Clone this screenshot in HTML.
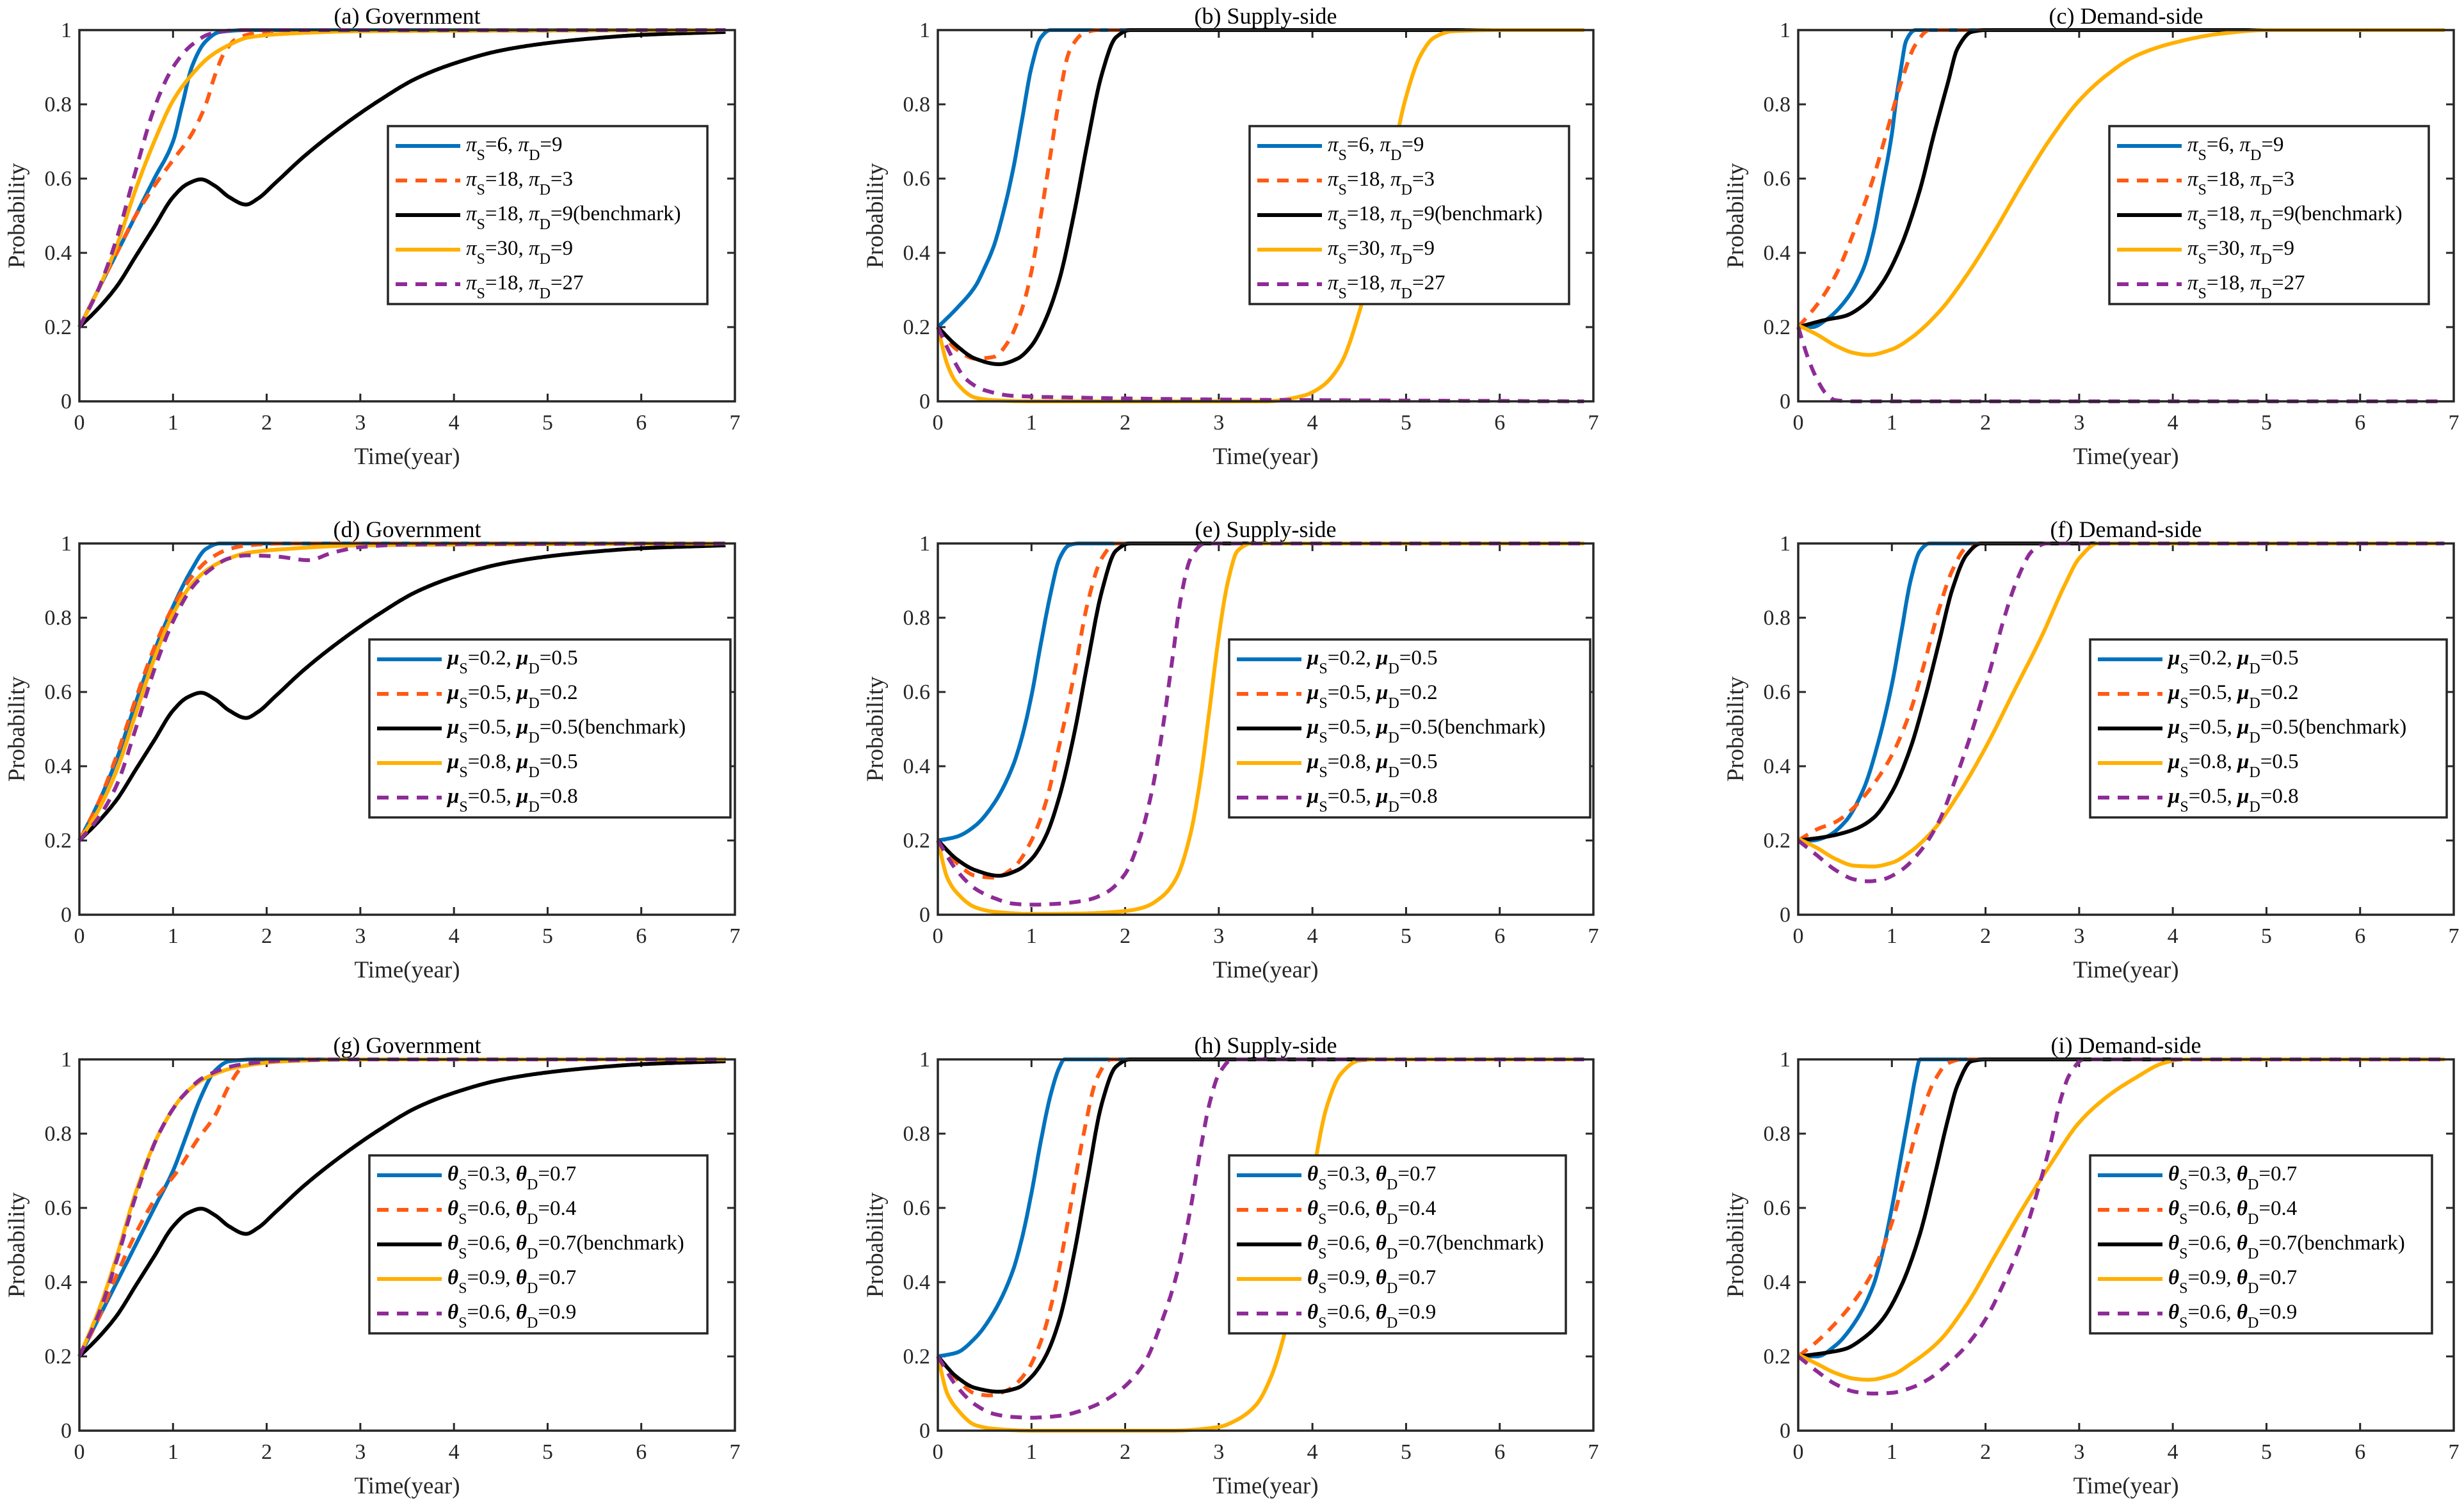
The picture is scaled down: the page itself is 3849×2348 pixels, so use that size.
<!DOCTYPE html>
<html><head><meta charset="utf-8">
<style>
html,body{margin:0;padding:0;background:#fff;}
svg{display:block;font-family:"Liberation Serif",serif;}
</style></head>
<body>
<svg id="fig" width="3849" height="2348" viewBox="0 0 3849 2348" xmlns="http://www.w3.org/2000/svg"></svg>
<script>
// ---------- data ----------
const xTicks = [0,1,2,3,4,5,6,7];
const yTicks = [0,0.2,0.4,0.6,0.8,1];
const yTickLabels = ["0","0.2","0.4","0.6","0.8","1"];
const titles = ["(a) Government","(b) Supply-side","(c) Demand-side","(d) Government","(e) Supply-side","(f) Demand-side","(g) Government","(h) Supply-side","(i) Demand-side"];
const seriesColors = ["#0072BD","#FF5A14","#000000","#FFB000","#8E2C97"];
const seriesDashed = [false,true,false,false,true];
const legendPi = [["6","9"],["18","3"],["18","9(benchmark)"],["30","9"],["18","27"]];
const legendMu = [["0.2","0.5"],["0.5","0.2"],["0.5","0.5(benchmark)"],["0.8","0.5"],["0.5","0.8"]];
const legendTheta = [["0.3","0.7"],["0.6","0.4"],["0.6","0.7(benchmark)"],["0.9","0.7"],["0.6","0.9"]];

const benchGov = [[0,.2],[.2,.25],[.4,.31],[.6,.39],[.8,.47],[1,.55],[1.15,.585],[1.3,.598],[1.45,.58],[1.6,.55],[1.78,.53],[1.9,.545],[2.1,.59],[2.4,.66],[2.8,.74],[3.2,.81],[3.6,.87],[4,.91],[4.5,.945],[5,.965],[5.5,.978],[6,.987],[6.9,.995]];

const aBlue=[[0,.2],[.2,.3],[.4,.4],[.6,.5],[.8,.6],[1,.7],[1.1,.8],[1.2,.9],[1.35,.97],[1.5,.995],[1.8,1],[6.9,1]];
const aOrange=[[0,.2],[.2,.3],[.4,.4],[.6,.5],[.8,.58],[1,.65],[1.2,.72],[1.35,.8],[1.45,.88],[1.55,.94],[1.7,.98],[2,.995],[6.9,1]];
const aYellow=[[0,.2],[.2,.3],[.4,.42],[.6,.57],[.8,.7],[1,.81],[1.2,.88],[1.4,.93],[1.6,.96],[1.8,.98],[2.2,.99],[3,.997],[6.9,1]];
const aPurple=[[0,.2],[.2,.3],[.4,.44],[.6,.62],[.8,.79],[1,.9],[1.2,.96],[1.4,.99],[1.7,1],[6.9,1]];

const bBlue=[[0,.2],[.2,.25],[.4,.31],[.5,.36],[.6,.42],[.7,.51],[.8,.62],[.9,.76],[1,.9],[1.1,.98],[1.2,1],[6.9,1]];
const bOrange=[[0,.2],[.2,.14],[.4,.115],[.6,.12],[.75,.16],[.9,.25],[1,.35],[1.1,.5],[1.2,.66],[1.3,.82],[1.4,.94],[1.55,.99],[1.7,1],[6.9,1]];
const bBlack=[[0,.2],[.2,.15],[.4,.115],[.65,.1],[.85,.115],[1,.15],[1.15,.22],[1.3,.33],[1.45,.5],[1.6,.7],[1.75,.88],[1.9,.98],[2.05,1],[6.9,1]];
const bYellow=[[0,.2],[.1,.1],[.2,.05],[.4,.01],[.6,.003],[1,0],[3.5,0],[3.9,.015],[4.1,.04],[4.3,.1],[4.5,.24],[4.7,.45],[4.85,.65],[5,.82],[5.15,.93],[5.3,.98],[5.5,.997],[6,1],[6.9,1]];
const bPurple=[[0,.2],[.15,.12],[.3,.06],[.5,.03],[.8,.015],[1.5,.01],[3,.005],[6.9,0]];

const cBlue=[[0,.2],[.15,.2],[.3,.22],[.5,.27],[.7,.36],[.8,.45],[.9,.58],[1,.72],[1.05,.82],[1.1,.9],[1.15,.97],[1.25,1],[6.9,1]];
const cOrange=[[0,.2],[.2,.26],[.4,.34],[.6,.46],[.8,.6],[.95,.73],[1.1,.86],[1.25,.96],[1.4,1],[6.9,1]];
const cBlack=[[0,.2],[.3,.22],[.5,.23],[.7,.26],[.9,.32],[1.1,.42],[1.3,.57],[1.45,.72],[1.6,.86],[1.7,.95],[1.85,.995],[2,1],[6.9,1]];
const cYellow=[[0,.205],[.2,.18],[.4,.15],[.6,.13],[.75,.125],[1,.14],[1.2,.17],[1.5,.24],[1.8,.34],[2.1,.46],[2.4,.59],[2.7,.71],[3,.81],[3.3,.88],[3.6,.93],[4,.965],[4.5,.99],[5,1],[6.9,1]];
const cPurple=[[0,.2],[.1,.12],[.2,.06],[.3,.02],[.4,.003],[.6,0],[6.9,0]];

const dBlue=[[0,.2],[.2,.3],[.4,.42],[.6,.57],[.8,.71],[1,.83],[1.2,.93],[1.35,.985],[1.5,1],[6.9,1]];
const dOrange=[[0,.2],[.2,.3],[.4,.43],[.6,.58],[.8,.72],[1,.83],[1.2,.91],[1.4,.96],[1.6,.985],[1.8,.995],[2.2,1],[6.9,1]];
const dYellow=[[0,.2],[.2,.28],[.4,.39],[.6,.54],[.8,.69],[1,.81],[1.2,.89],[1.4,.935],[1.6,.96],[1.8,.975],[2.2,.985],[3,.995],[6.9,1]];
const dPurple=[[0,.2],[.2,.26],[.4,.35],[.6,.5],[.8,.66],[1,.79],[1.2,.88],[1.4,.93],[1.6,.96],[1.8,.968],[2.1,.965],[2.45,.955],[2.7,.975],[3,.99],[3.5,.997],[6.9,1]];

const eBlue=[[0,.2],[.2,.21],[.4,.24],[.6,.3],[.8,.4],[.9,.48],[1,.59],[1.1,.73],[1.2,.86],[1.3,.96],[1.4,.995],[1.5,1],[6.9,1]];
const eOrange=[[0,.2],[.2,.14],[.4,.105],[.6,.1],[.8,.125],[1,.2],[1.15,.3],[1.3,.46],[1.45,.64],[1.6,.84],[1.75,.96],[1.9,1],[6.9,1]];
const eBlack=[[0,.2],[.2,.15],[.4,.12],[.65,.105],[.85,.12],[1,.15],[1.15,.21],[1.3,.32],[1.45,.48],[1.6,.68],[1.75,.87],[1.9,.98],[2.05,1],[6.9,1]];
const eYellow=[[0,.2],[.1,.1],[.2,.06],[.4,.02],[.6,.008],[1,.002],[1.5,.003],[2,.01],[2.2,.02],[2.4,.05],[2.55,.1],[2.7,.22],[2.8,.36],[2.9,.55],[3,.75],[3.1,.9],[3.2,.98],[3.35,1],[6.9,1]];
const ePurple=[[0,.2],[.2,.12],[.4,.07],[.6,.045],[.8,.03],[1,.027],[1.3,.03],[1.6,.04],[1.8,.06],[2,.11],[2.15,.2],[2.3,.35],[2.4,.5],[2.5,.68],[2.6,.86],[2.7,.96],[2.85,1],[6.9,1]];

const fBlue=[[0,.2],[.15,.2],[.3,.21],[.5,.25],[.7,.34],[.85,.46],[1,.62],[1.1,.76],[1.2,.9],[1.3,.98],[1.4,1],[6.9,1]];
const fOrange=[[0,.2],[.2,.23],[.4,.25],[.6,.29],[.8,.35],[1,.43],[1.2,.55],[1.35,.68],[1.5,.82],[1.65,.93],[1.8,.99],[1.95,1],[6.9,1]];
const fBlack=[[0,.2],[.3,.21],[.6,.23],[.8,.26],[1,.33],[1.2,.45],[1.35,.58],[1.5,.73],[1.65,.88],[1.8,.97],[1.95,1],[6.9,1]];
const fYellow=[[0,.205],[.2,.18],[.4,.15],[.6,.132],[.8,.13],[1,.14],[1.2,.17],[1.45,.23],[1.7,.32],[2,.45],[2.3,.6],[2.6,.75],[2.85,.89],[3,.96],[3.2,1],[6.9,1]];
const fPurple=[[0,.2],[.2,.16],[.4,.12],[.6,.095],[.75,.09],[.9,.095],[1.1,.12],[1.3,.17],[1.5,.25],[1.7,.38],[1.9,.53],[2.05,.66],[2.2,.8],[2.35,.91],[2.5,.98],[2.65,1],[6.9,1]];

const gBlue=[[0,.2],[.2,.3],[.4,.4],[.6,.5],[.8,.6],[1,.7],[1.15,.8],[1.3,.9],[1.45,.97],[1.6,.995],[1.9,1],[6.9,1]];
const gOrange=[[0,.2],[.2,.3],[.4,.42],[.6,.53],[.8,.62],[1.05,.7],[1.25,.78],[1.45,.85],[1.6,.93],[1.75,.98],[2,.995],[2.5,1],[6.9,1]];
const gYellow=[[0,.2],[.2,.32],[.4,.47],[.6,.64],[.85,.8],[1.1,.9],[1.35,.95],[1.7,.98],[2.2,.995],[3,1],[6.9,1]];
const gPurple=[[0,.2],[.2,.31],[.4,.46],[.6,.63],[.85,.8],[1.1,.9],[1.35,.955],[1.7,.985],[2.2,.997],[3,1],[6.9,1]];

const hBlue=[[0,.2],[.2,.21],[.4,.25],[.6,.32],[.8,.43],[.9,.52],[1,.64],[1.1,.78],[1.2,.9],[1.3,.98],[1.35,1],[6.9,1]];
const hOrange=[[0,.2],[.2,.14],[.4,.1],[.55,.095],[.75,.11],[.95,.16],[1.1,.24],[1.25,.38],[1.4,.58],[1.55,.79],[1.7,.95],[1.85,1],[6.9,1]];
const hBlack=[[0,.2],[.2,.145],[.4,.115],[.65,.105],[.85,.115],[1,.145],[1.15,.2],[1.3,.3],[1.45,.47],[1.6,.68],[1.75,.88],[1.9,.98],[2.05,1],[6.9,1]];
const hYellow=[[0,.2],[.1,.1],[.2,.06],[.4,.015],[.6,.005],[1,0],[2.5,0],[3,.01],[3.2,.03],[3.4,.07],[3.55,.14],[3.7,.26],[3.85,.45],[4,.68],[4.15,.87],[4.3,.96],[4.5,.997],[4.7,1],[6.9,1]];
const hPurple=[[0,.2],[.2,.12],[.4,.07],[.6,.045],[.8,.037],[1,.035],[1.3,.04],[1.6,.06],[1.9,.1],[2.2,.18],[2.4,.3],[2.55,.42],[2.7,.6],[2.8,.75],[2.9,.88],[3,.96],[3.15,1],[6.9,1]];

const iBlue=[[0,.2],[.2,.2],[.4,.23],[.6,.29],[.8,.39],[.9,.48],[1,.6],[1.1,.74],[1.2,.88],[1.25,.95],[1.3,1],[6.9,1]];
const iOrange=[[0,.2],[.2,.24],[.4,.29],[.6,.35],[.8,.43],[1,.56],[1.15,.7],[1.3,.84],[1.45,.94],[1.6,.99],[1.75,1],[6.9,1]];
const iBlack=[[0,.2],[.3,.21],[.5,.22],[.7,.25],[.9,.3],[1.1,.39],[1.3,.53],[1.45,.68],[1.6,.84],[1.7,.93],[1.85,.995],[2,1],[6.9,1]];
const iYellow=[[0,.205],[.2,.18],[.4,.155],[.6,.14],[.75,.137],[1,.15],[1.2,.18],[1.5,.24],[1.8,.34],[2.1,.47],[2.4,.6],[2.7,.72],[3,.83],[3.3,.9],[3.6,.95],[3.9,.99],[4.1,1],[6.9,1]];
const iPurple=[[0,.2],[.2,.16],[.4,.125],[.6,.105],[.8,.1],[1,.102],[1.2,.115],[1.4,.14],[1.6,.18],[1.8,.23],[2,.3],[2.2,.4],[2.4,.52],[2.55,.64],[2.7,.78],[2.8,.89],[2.9,.96],[3.05,1],[6.9,1]];

const panelSeries = [
  [aBlue,aOrange,benchGov,aYellow,aPurple],
  [bBlue,bOrange,bBlack,bYellow,bPurple],
  [cBlue,cOrange,cBlack,cYellow,cPurple],
  [dBlue,dOrange,benchGov,dYellow,dPurple],
  [eBlue,eOrange,eBlack,eYellow,ePurple],
  [fBlue,fOrange,fBlack,fYellow,fPurple],
  [gBlue,gOrange,benchGov,gYellow,gPurple],
  [hBlue,hOrange,hBlack,hYellow,hPurple],
  [iBlue,iOrange,iBlack,iYellow,iPurple]
];
const panelLegend = [legendPi,legendPi,legendPi,legendMu,legendMu,legendMu,legendTheta,legendTheta,legendTheta];
const legendSym = ["π","π","π","μ","μ","μ","θ","θ","θ"];

// ---------- layout ----------
const NS="http://www.w3.org/2000/svg";
const svg=document.getElementById('fig');
const colLeft=[124,1465,2809], rowTop=[47,849,1655];
const AW=1024, AH=580;
const legendW=[499,499,499,564,564,557,528,526,534];
function mk(tag,attrs,parent){const e=document.createElementNS(NS,tag);for(const k in attrs)e.setAttribute(k,attrs[k]);(parent||svg).appendChild(e);return e;}

// monotone cubic (Fritsch-Carlson) interpolation, sampled densely
function pathFrom(pts,sx,sy){
  const n=pts.length, xs=pts.map(p=>p[0]), ys=pts.map(p=>p[1]);
  const dl=[], m=new Array(n).fill(0);
  for(let i=0;i<n-1;i++) dl.push((ys[i+1]-ys[i])/(xs[i+1]-xs[i]));
  m[0]=dl[0]; m[n-1]=dl[n-2];
  for(let i=1;i<n-1;i++){
    if(dl[i-1]*dl[i]<=0) m[i]=0;
    else { const w1=2*(xs[i+1]-xs[i])+(xs[i]-xs[i-1]), w2=(xs[i+1]-xs[i])+2*(xs[i]-xs[i-1]);
      m[i]=(w1+w2)/(w1/dl[i-1]+w2/dl[i]); }
  }
  let d="M"+sx(xs[0]).toFixed(1)+","+sy(ys[0]).toFixed(1);
  for(let i=0;i<n-1;i++){
    const h=xs[i+1]-xs[i], N=Math.max(4,Math.ceil(h*60));
    for(let k=1;k<=N;k++){
      const t=k/N, t2=t*t, t3=t2*t;
      const y=(2*t3-3*t2+1)*ys[i]+(t3-2*t2+t)*h*m[i]+(-2*t3+3*t2)*ys[i+1]+(t3-t2)*h*m[i+1];
      d+=" L"+sx(xs[i]+t*h).toFixed(1)+","+sy(y).toFixed(1);
    }
  }
  return d;
}

for(let p=0;p<9;p++){
  const L=colLeft[p%3], T=rowTop[Math.floor(p/3)];
  const sx=v=>L+v/7*AW, sy=v=>T+AH-v*AH;
  const g=mk('g',{});
  
  
  mk('rect',{x:L,y:T,width:AW,height:AH,fill:'#fff'},g);
  const tt=mk('text',{x:L+AW/2,y:T-10,'text-anchor':'middle','font-size':36,fill:'#000'},g);
  tt.textContent=titles[p];
  
  
  xTicks.forEach(v=>{
    const x=sx(v);
    mk('line',{x1:x,y1:T+AH,x2:x,y2:T+AH-12,stroke:'#262626','stroke-width':3},g);
    mk('line',{x1:x,y1:T,x2:x,y2:T+12,stroke:'#262626','stroke-width':3},g);
    const t=mk('text',{x:x,y:T+AH+44,'text-anchor':'middle','font-size':34,fill:'#262626'},g);
    t.textContent=String(v);
    
    
  });
  yTicks.forEach((v,i)=>{
    const y=sy(v);
    mk('line',{x1:L,y1:y,x2:L+12,y2:y,stroke:'#262626','stroke-width':3},g);
    mk('line',{x1:L+AW,y1:y,x2:L+AW-12,y2:y,stroke:'#262626','stroke-width':3},g);
    const t=mk('text',{x:L-12,y:y+11,'text-anchor':'end','font-size':34,fill:'#262626'},g);
    t.textContent=yTickLabels[i];
    
    
  });
  const xt=mk('text',{x:L+AW/2,y:T+AH+98,'text-anchor':'middle','font-size':37,fill:'#262626'},g);
  xt.textContent='Time(year)';
  
  
  const yt=mk('text',{x:0,y:0,'text-anchor':'middle','font-size':37,fill:'#262626',transform:'translate('+(L-86)+','+(T+AH/2)+') rotate(-90)'},g);
  yt.textContent='Probability';
  
  
  const cid='clip'+p;
  const cp=mk('clipPath',{id:cid},g);
  mk('rect',{x:L-4,y:T-6,width:AW+8,height:AH+12},cp);
  panelSeries[p].forEach((pts,s)=>{
    const path=mk('path',{d:pathFrom(pts,sx,sy),fill:'none',stroke:seriesColors[s],'stroke-width':6,'clip-path':'url(#'+cid+')','stroke-linejoin':'round'},g);
    if(seriesDashed[s]) path.setAttribute('stroke-dasharray','18,13');
    
    
  });
  mk('rect',{x:L,y:T,width:AW,height:AH,fill:'none',stroke:'#262626','stroke-width':3.5},g);
  const lx=L+(p%3===0?482:(p%3===1?487:486)) - (Math.floor(p/3)>0?(p%3===0?29:(p%3===1?32:30)):0);
  const ly=T+150;
  const lw=legendW[p], lh=278;
  const lg=mk('g',{},g);
  
  
  mk('rect',{x:lx,y:ly,width:lw,height:lh,fill:'#fff',stroke:'#262626','stroke-width':3.5},lg);
  const sym=legendSym[p];
  const isGreekBold = sym!=="π";
  panelLegend[p].forEach((lab,s)=>{
    const ey=ly+31+s*54;
    const ln=mk('line',{x1:lx+12,y1:ey,x2:lx+113,y2:ey,stroke:seriesColors[s],'stroke-width':6},lg);
    if(seriesDashed[s]) ln.setAttribute('stroke-dasharray','18,13');
    
    
    const t=mk('text',{x:lx+122,y:ey+8,'font-size':33,fill:'#000'},lg);
    
    
    const parts=[[sym,'g'],['S','sub'],['='+lab[0]+', ','n'],[sym,'g'],['D','sub'],['='+lab[1],'n']];
    parts.forEach(([txt,kind])=>{
      const ts=document.createElementNS(NS,'tspan');
      ts.textContent=txt;
      if(kind==='g'){ts.setAttribute('font-style','italic');if(isGreekBold)ts.setAttribute('font-weight','bold');}
      if(kind==='sub'){ts.setAttribute('font-size','24');ts.setAttribute('dy','14');}
      if(kind==='n'&&txt.startsWith('=')){ts.setAttribute('dy','-14');}
      t.appendChild(ts);
    });
  });
}
</script>
</body></html>
